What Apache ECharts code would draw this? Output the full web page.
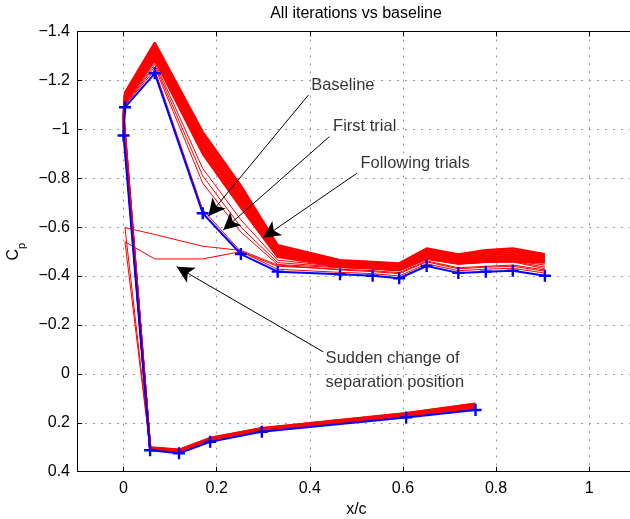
<!DOCTYPE html>
<html>
<head>
<meta charset="utf-8">
<script src="https://cdn.jsdelivr.net/npm/echarts@6/dist/echarts.min.js"></script>
<style>
  html, body { margin: 0; padding: 0; background: #fff; }
  #chart { width: 630px; height: 519px; }
</style>
</head>
<body>
<div id="chart"></div>
<script>
// Chordwise stations: upper surface from trailing edge to leading edge, then lower surface back aft
const xc = [0.905, 0.836, 0.778, 0.719, 0.651, 0.592, 0.535, 0.465, 0.331, 0.252, 0.170, 0.067, 0.003, 0.000,
            0.057, 0.119, 0.186, 0.297, 0.607, 0.756];

// Baseline pressure coefficient
const cpBaseline = [-0.401, -0.422, -0.418, -0.413, -0.441, -0.391, -0.401, -0.407, -0.418, -0.490, -0.657, -1.229, -1.090, -0.975,
                    0.312, 0.325, 0.278, 0.237, 0.178, 0.148];

// First optimisation trial
const cpFirstTrial = [-0.412, -0.432, -0.428, -0.422, -0.450, -0.400, -0.410, -0.415, -0.428, -0.500, -0.672, -1.243, -1.098, -0.988,
                      0.311, 0.323, 0.276, 0.235, 0.174, 0.144];

// Early trials between the first one and the converged band
const cpEarlyTrials = [
  [-0.445, -0.462, -0.460, -0.452, -0.472, -0.425, -0.432, -0.438, -0.465, -0.630, -0.840, -1.275, -1.105, -1.005, 0.309, 0.321, 0.273, 0.233, 0.171, 0.140],
  [-0.437, -0.460, -0.458, -0.450, -0.470, -0.423, -0.430, -0.436, -0.455, -0.600, -0.810, -1.265, -1.102, -1.000, 0.310, 0.322, 0.274, 0.234, 0.172, 0.141],
  [-0.430, -0.458, -0.456, -0.448, -0.468, -0.421, -0.428, -0.434, -0.447, -0.580, -0.780, -1.255, -1.100, -0.995, 0.310, 0.322, 0.275, 0.234, 0.172, 0.142]
];

// Trials where the separation point jumped
const cpSeparationTrials = [
  [-0.420, -0.440, -0.436, -0.430, -0.458, -0.410, -0.418, -0.425, -0.445, -0.505, -0.522, -0.570, -0.598, -0.600, 0.305, 0.318, 0.270, 0.230, 0.168, 0.135],
  [-0.425, -0.445, -0.440, -0.434, -0.462, -0.414, -0.422, -0.428, -0.440, -0.500, -0.470, -0.470, -0.540, -0.543, 0.306, 0.318, 0.271, 0.231, 0.169, 0.136]
];

// Following trials (converged band)
const cpFollowingTrials = [
  [-0.490, -0.513, -0.506, -0.489, -0.513, -0.452, -0.458, -0.465, -0.527, -0.770, -0.990, -1.355, -1.150, -1.060, 0.300, 0.310, 0.262, 0.222, 0.160, 0.121],
  [-0.485, -0.505, -0.499, -0.484, -0.507, -0.448, -0.454, -0.461, -0.520, -0.757, -0.977, -1.345, -1.144, -1.053, 0.301, 0.311, 0.263, 0.223, 0.161, 0.123],
  [-0.480, -0.498, -0.492, -0.478, -0.501, -0.444, -0.451, -0.457, -0.513, -0.744, -0.964, -1.335, -1.139, -1.046, 0.302, 0.313, 0.265, 0.225, 0.163, 0.126],
  [-0.475, -0.490, -0.485, -0.473, -0.495, -0.440, -0.447, -0.453, -0.506, -0.731, -0.951, -1.325, -1.133, -1.039, 0.303, 0.314, 0.266, 0.226, 0.164, 0.128],
  [-0.470, -0.483, -0.479, -0.468, -0.490, -0.436, -0.443, -0.450, -0.499, -0.719, -0.939, -1.315, -1.127, -1.031, 0.305, 0.316, 0.268, 0.228, 0.166, 0.131],
  [-0.465, -0.475, -0.472, -0.463, -0.484, -0.432, -0.439, -0.446, -0.492, -0.706, -0.926, -1.305, -1.121, -1.024, 0.306, 0.317, 0.269, 0.229, 0.167, 0.133],
  [-0.460, -0.468, -0.465, -0.457, -0.478, -0.428, -0.436, -0.442, -0.485, -0.693, -0.913, -1.295, -1.116, -1.017, 0.307, 0.319, 0.271, 0.231, 0.169, 0.136],
  [-0.455, -0.460, -0.458, -0.452, -0.472, -0.424, -0.432, -0.438, -0.478, -0.680, -0.900, -1.285, -1.110, -1.010, 0.308, 0.320, 0.272, 0.232, 0.170, 0.138]
];

// Axis ranges and ticks
const xRange = [-0.1, 1.1];
const yRange = [-1.4, 0.4];
const xTicks = [0, 0.2, 0.4, 0.6, 0.8, 1];
const xTickLabels = ['0', '0.2', '0.4', '0.6', '0.8', '1'];
const yTicks = [-1.4, -1.2, -1, -0.8, -0.6, -0.4, -0.2, 0, 0.2, 0.4];
const yTickLabels = ['\u22121.4', '\u22121.2', '\u22121', '\u22120.8', '\u22120.6', '\u22120.4', '\u22120.2', '0', '0.2', '0.4'];

// Annotation texts (left edge, vertical middle) and arrows (tail -> head), in data units
const noteTexts = ['Baseline', 'First trial', 'Following trials', 'Sudden change of\nseparation position'];
const noteX = [0.403, 0.450, 0.509, 0.434];
const noteY = [-1.181, -1.011, -0.861, -0.016];
const arrowTail = [[0.397, -1.140], [0.442, -0.970], [0.501, -0.820], [0.429, -0.090]];
const arrowHead = [[0.182, -0.645], [0.214, -0.588], [0.300, -0.557], [0.114, -0.438]];

const FONT = 'Liberation Sans, Arial, Helvetica, sans-serif';

function pairs(cp) { return xc.map((x, i) => [x, cp[i]]); }

function redLine(cp, width) {
  return {
    type: 'line', data: pairs(cp), showSymbol: false, silent: true,
    lineStyle: { color: '#ff0000', width: width }, z: 2
  };
}

const series = [];
cpFollowingTrials.forEach(cp => series.push(redLine(cp, 2.2)));
cpEarlyTrials.forEach(cp => series.push(redLine(cp, 1)));
cpSeparationTrials.forEach(cp => series.push(redLine(cp, 1)));
series.push(redLine(cpFirstTrial, 1));

series.push({
  type: 'line', data: pairs(cpBaseline), silent: true,
  symbol: 'path://M4,0H6V4H10V6H6V10H4V6H0V4H4Z', symbolSize: 12, showSymbol: true,
  itemStyle: { color: '#0000ff' },
  lineStyle: { color: '#0000ff', width: 2 }, z: 3
});

// Annotation arrows
series.push({
  type: 'line', data: [], silent: true, z: 5,
  markLine: {
    silent: true, animation: false,
    symbol: ['none', 'arrow'], symbolSize: [13, 17],
    label: { show: false },
    lineStyle: { color: '#000', width: 1, type: 'solid' },
    emphasis: { disabled: true },
    data: arrowTail.map((t, i) => [{ coord: t }, { coord: arrowHead[i] }])
  }
});

// Axes box with inward ticks, drawn in data units (tick length about 5 px)
const tickLenY = 0.02;
const tickLenX = 0.011;
const boxSegments = [
  [[xRange[0], yRange[0]], [xRange[1], yRange[0]]],
  [[xRange[0], yRange[1]], [xRange[1], yRange[1]]],
  [[xRange[0], yRange[0]], [xRange[0], yRange[1]]]
];
xTicks.forEach(t => {
  boxSegments.push([[t, yRange[1]], [t, yRange[1] - tickLenY]]);
  boxSegments.push([[t, yRange[0]], [t, yRange[0] + tickLenY]]);
});
yTicks.forEach(t => {
  boxSegments.push([[xRange[0], t], [xRange[0] + tickLenX, t]]);
});
series.push({
  type: 'line', data: [], silent: true, clip: false, z: 7,
  markLine: {
    silent: true, animation: false, symbol: ['none', 'none'],
    label: { show: false },
    lineStyle: { color: '#000', width: 1, type: 'solid' },
    emphasis: { disabled: true },
    data: boxSegments.map(s => [{ coord: s[0] }, { coord: s[1] }])
  }
});

// Annotation texts
series.push({
  type: 'scatter', symbolSize: 0, silent: true, z: 6,
  data: noteTexts.map((t, i) => ({
    value: [noteX[i], noteY[i]],
    label: { formatter: t }
  })),
  label: {
    show: true, position: [0, 0], align: 'left', verticalAlign: 'middle',
    color: '#000', fontFamily: FONT, fontSize: 16.5, lineHeight: 24
  }
});

const gridLineStyle = { show: true, lineStyle: { color: '#9a9a9a', width: 1, type: [2, 6] } };

const chart = echarts.init(document.getElementById('chart'), null, { renderer: 'canvas' });
chart.setOption({
  animation: false,
  backgroundColor: '#fff',
  graphic: [{
    id: 'title', type: 'text', x: 356, y: 14, silent: true,
    style: { text: 'All iterations vs baseline', fontFamily: FONT, fontSize: 16, fill: '#000',
             textAlign: 'center', textVerticalAlign: 'middle' }
  }],
  grid: { left: 77, top: 31.5, right: -5.7, bottom: 47.3, containLabel: false, outerBoundsMode: 'none' },
  xAxis: [{
    type: 'value', min: xRange[0], max: xRange[1], interval: 0.1,
    name: 'x/c', nameLocation: 'middle', nameGap: 26,
    nameTextStyle: { fontFamily: FONT, fontSize: 16, color: '#000' },
    axisLine: { show: false, onZero: false },
    axisTick: { show: false, customValues: xTicks },
    axisLabel: { customValues: xTicks, margin: 9, fontFamily: FONT, fontSize: 16, color: '#000',
                 formatter: v => xTickLabels[xTicks.findIndex(t => Math.abs(t - v) < 1e-9)] },
    splitLine: gridLineStyle
  }],
  yAxis: [{
    type: 'value', inverse: true, min: yRange[0], max: yRange[1], interval: 0.2,
    name: '{c|C}{p|p}', nameLocation: 'middle', nameGap: 42, nameRotate: 90,
    nameTextStyle: {
      rich: {
        c: { fontFamily: FONT, fontSize: 16, color: '#000', lineHeight: 22, verticalAlign: 'top' },
        p: { fontFamily: FONT, fontSize: 11, color: '#000', lineHeight: 22, verticalAlign: 'bottom' }
      }
    },
    axisLine: { show: false, onZero: false },
    axisTick: { show: false },
    axisLabel: { margin: 7, fontFamily: FONT, fontSize: 16, color: '#000',
                 formatter: v => yTickLabels[yTicks.findIndex(t => Math.abs(t - v) < 1e-9)] },
    splitLine: gridLineStyle
  }],
  series: series
});
</script>
</body>
</html>
